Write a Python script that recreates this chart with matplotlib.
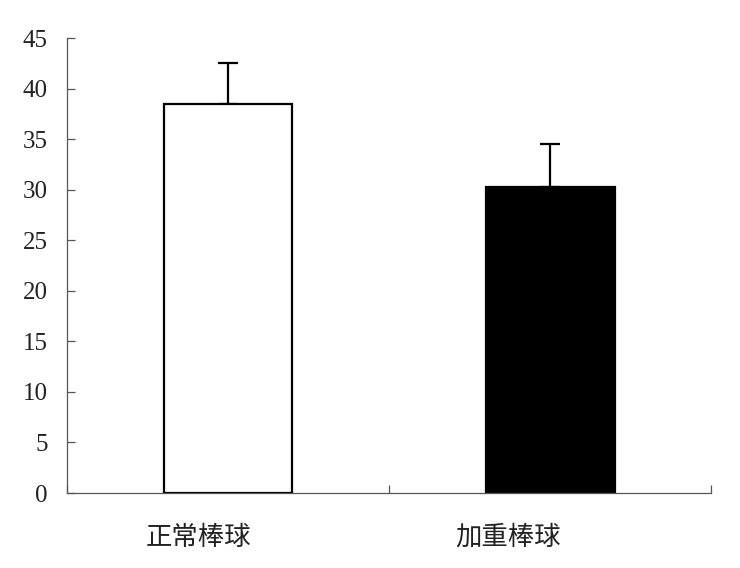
import matplotlib
matplotlib.use("Agg")
import matplotlib.pyplot as plt
from matplotlib.transforms import ScaledTranslation

categories = ["正常棒球", "加重棒球"]
values = [38.5, 30.3]
errors = [4.0, 4.2]
colors = ["white", "black"]
yticks = [0, 5, 10, 15, 20, 25, 30, 35, 40, 45]

fig = plt.figure(figsize=(7.4, 5.68), dpi=100)
ax = fig.add_axes([0.0905, 0.132, 0.8705, 0.801])

x = list(range(len(categories)))
ax.bar(x, values, width=0.4, color=colors, edgecolor="black", linewidth=1.6, zorder=2)
ax.errorbar(x, values, yerr=[[0, 0], errors], fmt="none", ecolor="black",
            elinewidth=1.6, capsize=7, capthick=1.6, zorder=1)

ax.set_xlim(-0.5, len(categories) - 0.5)
ax.set_ylim(0, 45)
ax.set_yticks(yticks)
ax.set_yticklabels([str(t) for t in yticks], family="Liberation Serif", fontsize=18,
                   color="#222222")
ax.tick_params(axis="y", direction="in", length=6, width=0.9, color="#555555", pad=14)

ax.set_xticks(x)
ax.set_xticklabels(categories, family=["Noto Sans CJK TC", "DejaVu Sans"], fontsize=19,
                   color="#222222")
ax.tick_params(axis="x", which="major", length=0, pad=22)
label_shift_px = [-30, -42]
for lab, dx in zip(ax.get_xticklabels(), label_shift_px):
    lab.set_transform(lab.get_transform() + ScaledTranslation(dx / 100, 0, fig.dpi_scale_trans))
ax.set_xticks([i - 0.5 for i in range(len(categories) + 1)], minor=True)
ax.tick_params(axis="x", which="minor", direction="in", length=6, width=0.9, color="#555555")

for s in ["top", "right"]:
    ax.spines[s].set_visible(False)
for s in ["left", "bottom"]:
    ax.spines[s].set_color("#555555")
    ax.spines[s].set_linewidth(0.9)

fig.savefig("out.png", dpi=100)
